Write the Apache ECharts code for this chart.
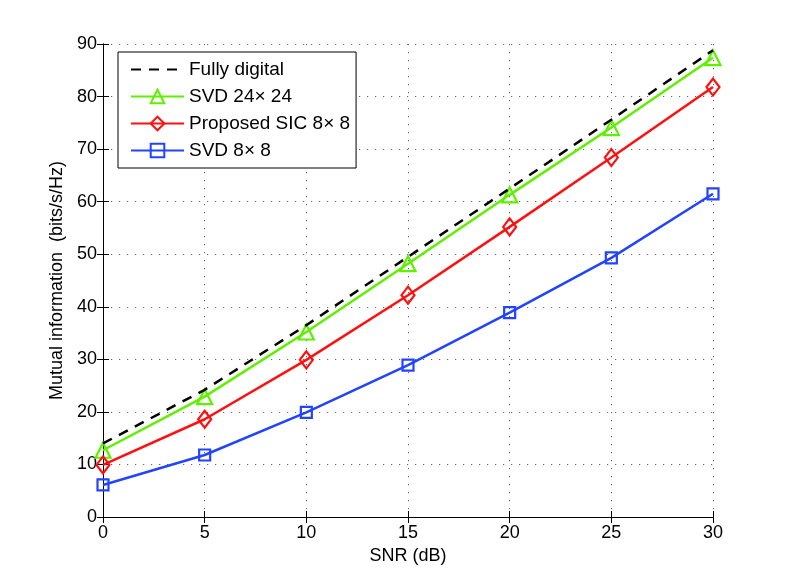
<!DOCTYPE html>
<html>
<head>
<meta charset="utf-8">
<script src="https://cdn.jsdelivr.net/npm/echarts@6/dist/echarts.min.js"></script>
<style>
  html, body { margin: 0; padding: 0; background: #fff; }
  #chart { width: 789px; height: 582px; }
</style>
</head>
<body>
<div id="chart"></div>
<script>
// SNR values (dB)
const snr = [0, 5, 10, 15, 20, 25, 30];

// mutual information (bits/s/Hz)
const fullyDigital = [14.0, 24.2, 36.5, 49.5, 62.5, 75.6, 88.8];
const svd24 = [12.7, 22.9, 35.2, 48.2, 61.3, 74.1, 87.4];
const proposedSic8 = [9.9, 18.6, 29.9, 42.2, 55.2, 68.4, 81.8];
const svd8 = [6.1, 11.8, 19.9, 28.9, 38.9, 49.3, 61.5];

const seriesNames = ['Fully digital', 'SVD 24\u00d7 24', 'Proposed SIC 8\u00d7 8', 'SVD 8\u00d7 8'];

const green = '#5ff000';
const red = '#ff1010';
const blue = '#2244ff';
const font = 'Liberation Sans, Arial, Helvetica, sans-serif';

function pairs(values) {
    return snr.map((x, i) => [x, values[i]]);
}

var chart = echarts.init(document.getElementById('chart'));

var gridLine = {
    show: true,
    lineStyle: { color: '#666', width: 1, type: [1.2, 6.8] }
};

var option = {
    animation: false,
    backgroundColor: '#fff',
    textStyle: { fontFamily: font },
    grid: { left: 103, right: 76, top: 44, bottom: 65 },
    legend: {
        orient: 'vertical',
        left: 118,
        top: 52,
        padding: [8, 6, 8, 12],
        itemWidth: 53,
        itemHeight: 17,
        itemGap: 8,
        backgroundColor: '#fff',
        borderColor: '#000',
        borderWidth: 1,
        borderRadius: 0,
        textStyle: { fontFamily: font, fontSize: 19, color: '#000' },
        data: [
            { name: seriesNames[0], itemStyle: { opacity: 0 } },
            seriesNames[1],
            seriesNames[2],
            seriesNames[3]
        ]
    },
    xAxis: [{
        type: 'value',
        min: 0,
        max: 30,
        interval: 5,
        name: 'SNR (dB)',
        nameLocation: 'middle',
        nameGap: 27,
        nameTextStyle: { fontFamily: font, fontSize: 18, color: '#000' },
        axisLine: { lineStyle: { color: '#000', width: 1 } },
        axisTick: { inside: true, length: 6, lineStyle: { color: '#000' } },
        axisLabel: { fontFamily: font, fontSize: 18, color: '#000', margin: 7 },
        splitLine: gridLine
    }, {
        type: 'value',
        position: 'top',
        min: 0,
        max: 30,
        interval: 5,
        axisLine: { show: true, lineStyle: { color: '#000', width: 1 } },
        axisTick: { inside: true, length: 6, lineStyle: { color: '#000' } },
        axisLabel: { show: false },
        splitLine: { show: false }
    }],
    yAxis: [{
        type: 'value',
        min: 0,
        max: 90,
        interval: 10,
        name: 'Mutual information  (bits/s/Hz)',
        nameLocation: 'middle',
        nameGap: 36,
        nameTextStyle: { fontFamily: font, fontSize: 18, color: '#000' },
        axisLine: { show: true, lineStyle: { color: '#000', width: 1 } },
        axisTick: { show: true, inside: true, length: 6, lineStyle: { color: '#000' } },
        axisLabel: { fontFamily: font, fontSize: 18, color: '#000', margin: 6 },
        splitLine: gridLine
    }, {
        type: 'value',
        position: 'right',
        min: 0,
        max: 90,
        interval: 10,
        axisLine: { show: true, lineStyle: { color: '#000', width: 1 } },
        axisTick: { show: true, inside: true, length: 6, lineStyle: { color: '#000' } },
        axisLabel: { show: false },
        splitLine: { show: false }
    }],
    series: [{
        name: seriesNames[0],
        type: 'line',
        data: pairs(fullyDigital),
        showSymbol: false,
        symbol: 'none',
        lineStyle: { color: '#000', width: 2.5, type: [10, 8] },
        itemStyle: { color: '#000' },
        z: 5
    }, {
        name: seriesNames[1],
        type: 'line',
        data: pairs(svd24),
        symbol: 'triangle',
        symbolSize: 15,
        lineStyle: { color: green, width: 2.5 },
        itemStyle: { color: 'rgba(255,255,255,0)', borderColor: green, borderWidth: 2.2 },
        z: 4
    }, {
        name: seriesNames[2],
        type: 'line',
        data: pairs(proposedSic8),
        symbol: 'diamond',
        symbolSize: [13, 17],
        lineStyle: { color: red, width: 2.5 },
        itemStyle: { color: 'rgba(255,255,255,0)', borderColor: red, borderWidth: 2.2 },
        z: 4
    }, {
        name: seriesNames[3],
        type: 'line',
        data: pairs(svd8),
        symbol: 'rect',
        symbolSize: 11,
        lineStyle: { color: blue, width: 2.5 },
        itemStyle: { color: 'rgba(255,255,255,0)', borderColor: blue, borderWidth: 2.2 },
        z: 4
    }]
};

chart.setOption(option);
</script>
</body>
</html>
